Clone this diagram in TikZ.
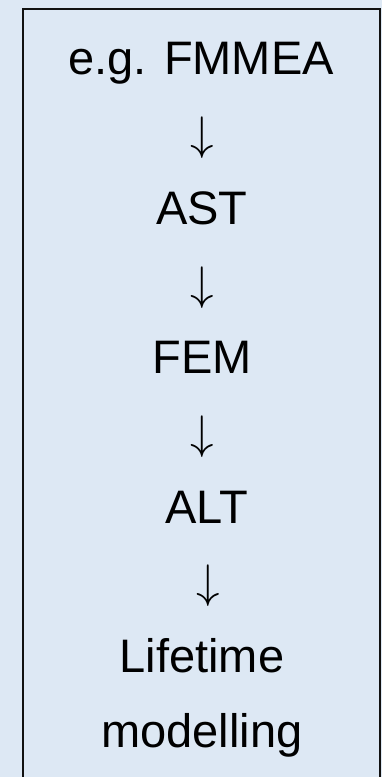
\RequirePackage{fix-cm}
\documentclass[tikz,border=0pt]{standalone}
\usepackage{fontspec}
\setmainfont{Liberation Sans}
\definecolor{bgblue}{HTML}{DDE8F4}
\definecolor{frame}{HTML}{111111}
\begin{document}
\begin{tikzpicture}[x=1pt,y=-1pt,
  lbl/.style={anchor=base,inner sep=0pt,font=\fontsize{47}{56}\selectfont,text=black},
  arr/.style={anchor=base,inner sep=0pt,font=\fontsize{47}{56}\selectfont,text=black}]
\useasboundingbox (0,0) rectangle (382,777);
\fill[bgblue] (0,0) rectangle (382,777);
\draw[frame,line width=2pt] (23,778) -- (23,9) -- (379.5,9) -- (379.5,778);
\node[lbl] (t1) at (201,74) {e.g. FMMEA};
\node[arr] (a1) at (202,149) {$\downarrow$};
\node[lbl] (t2) at (202,224) {AST};
\node[arr] (a2) at (202,299) {$\downarrow$};
\node[lbl] (t3) at (202,373) {FEM};
\node[arr] (a3) at (202,448) {$\downarrow$};
\node[lbl] (t4) at (207,523) {ALT};
\node[arr] (a4) at (208,597) {$\downarrow$};
\node[lbl] (t5) at (202,672) {Lifetime};
\node[lbl] (t6) at (202,747) {modelling};
\end{tikzpicture}
\end{document}
